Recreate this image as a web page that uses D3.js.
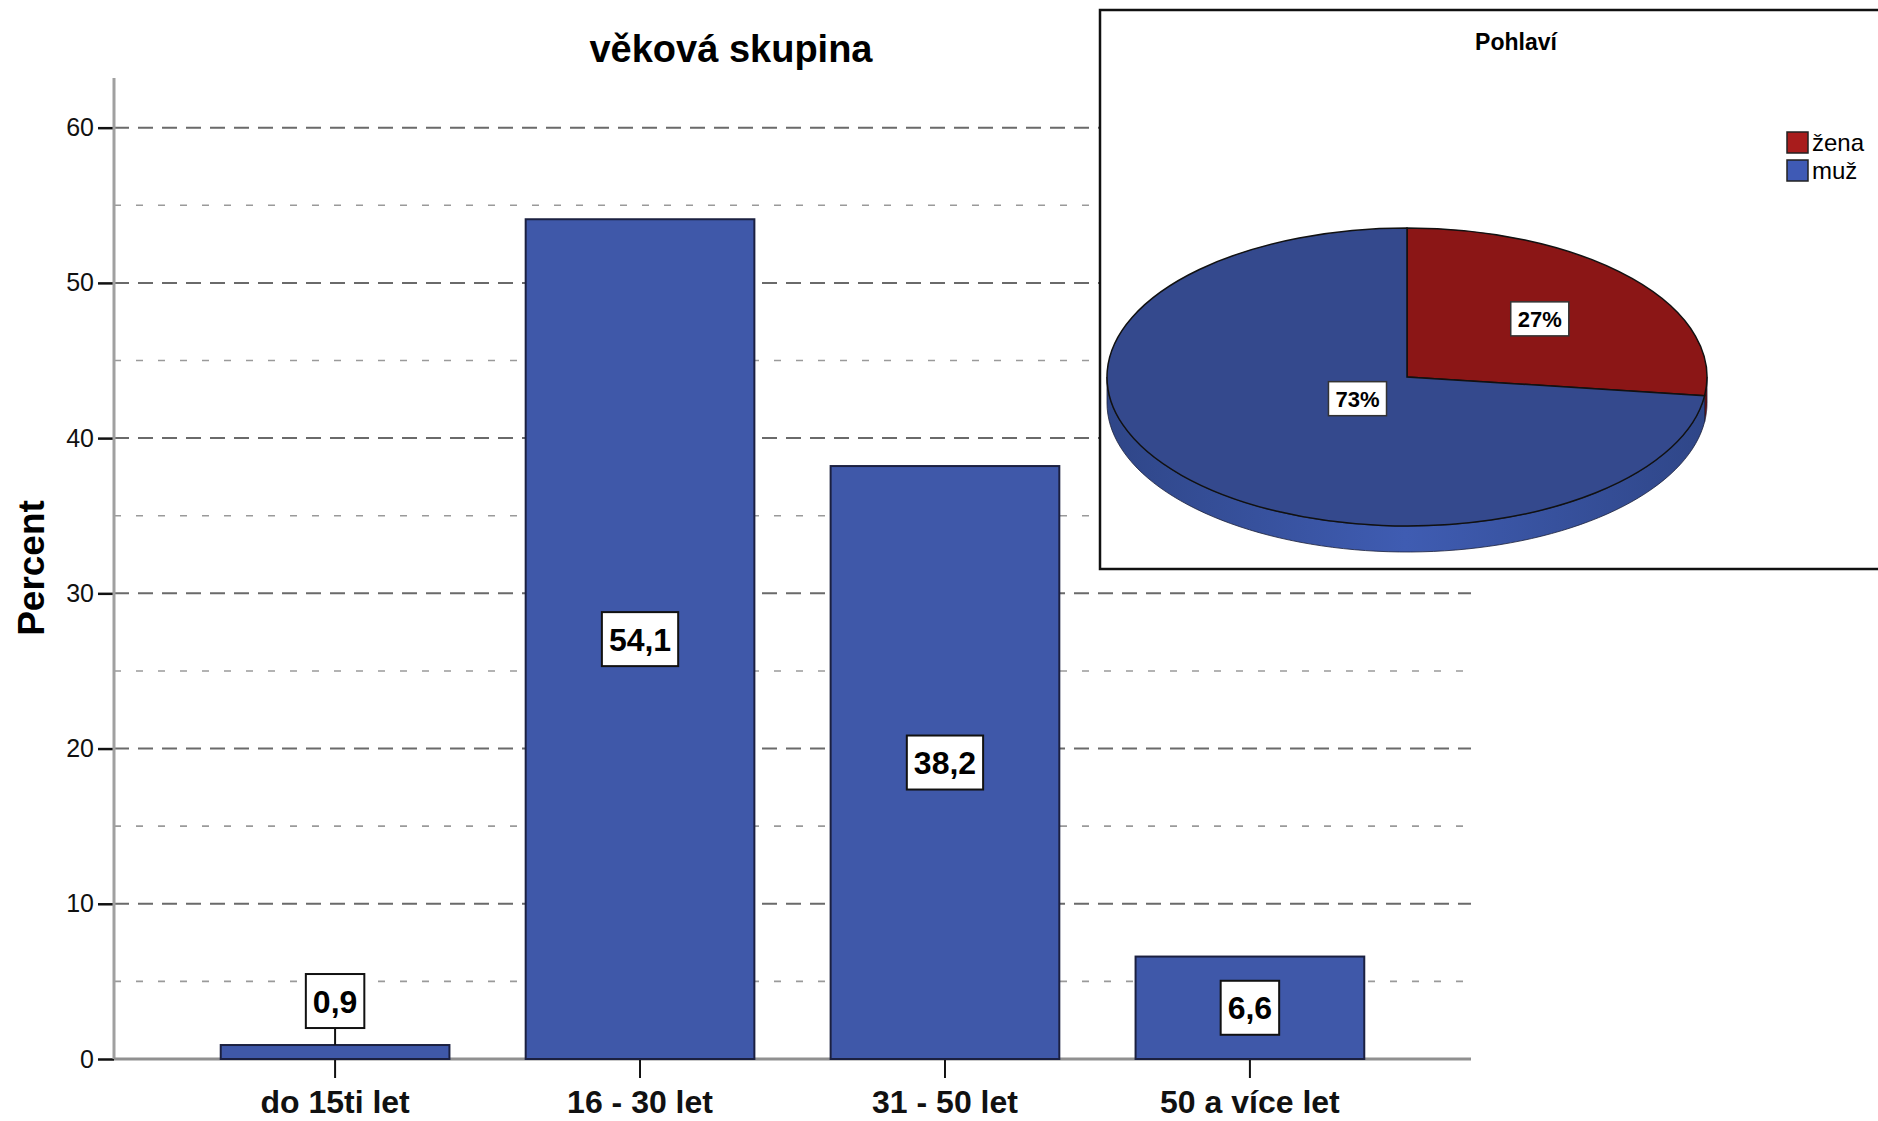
<!DOCTYPE html>
<html>
<head>
<meta charset="utf-8">
<script src="https://cdnjs.cloudflare.com/ajax/libs/d3/7.8.5/d3.min.js"></script>
<style>
  body { margin: 0; background: #fff; }
  svg { display: block; font-family: "Liberation Sans", Arial, sans-serif; }
</style>
</head>
<body>
<svg id="chart" width="1878" height="1121"></svg>
<script>
// bar chart data
var ageGroups = ["do 15ti let", "16 - 30 let", "31 - 50 let", "50 a více let"];
var agePercent = [0.9, 54.1, 38.2, 6.6];
var majorTicks = [0, 10, 20, 30, 40, 50, 60];
var minorTicks = [5, 15, 25, 35, 45, 55];

// pie data
var genderLabels = ["žena", "muž"];
var genderPercent = [27, 73];

var cz = d3.formatLocale({decimal: ",", thousands: " ", grouping: [3], currency: ["", " Kč"]});
var fmt = cz.format(".1f");

var svg = d3.select("#chart");

// ---- bar chart ----
var plotLeft = 114, plotRight = 1471, plotTop = 78, plotBottom = 1059;
var x = d3.scaleBand().domain(ageGroups).range([plotLeft, plotRight]).paddingInner(0.25).paddingOuter(0.35);
var y = d3.scaleLinear().domain([0, 63.2]).range([plotBottom, plotTop]);

var grid = svg.append('g');
grid.selectAll('line.minor').data(minorTicks).enter().append('line')
  .attr('class', 'minor')
  .attr('x1', plotLeft).attr('x2', plotRight)
  .attr('y1', d => y(d)).attr('y2', d => y(d))
  .attr('stroke', '#9a9a9a').attr('stroke-width', 1.6).attr('stroke-dasharray', '7,15');
grid.selectAll('line.major').data(majorTicks.slice(1)).enter().append('line')
  .attr('class', 'major')
  .attr('x1', plotLeft).attr('x2', plotRight)
  .attr('y1', d => y(d)).attr('y2', d => y(d))
  .attr('stroke', '#6a6a6a').attr('stroke-width', 2).attr('stroke-dasharray', '15,9');

// y axis
var yAxis = svg.append('g').attr('transform', 'translate(' + plotLeft + ',0)')
  .call(d3.axisLeft(y).tickValues(majorTicks).tickSize(16).tickPadding(4).tickFormat(d3.format('d')));
yAxis.select('.domain').remove();
yAxis.attr('font-family', null).attr('font-size', null);
yAxis.selectAll('.tick line').attr('stroke', '#111').attr('stroke-width', 2.5);
yAxis.selectAll('.tick text').style('font-size', '25px').attr('fill', '#111');
svg.append('line').attr('x1', plotLeft).attr('x2', plotLeft).attr('y1', plotTop).attr('y2', plotBottom)
  .attr('stroke', '#a0a0a0').attr('stroke-width', 3);

svg.append('text').attr('transform', 'translate(44, 568) rotate(-90)')
  .attr('text-anchor', 'middle').style('font-size', '37px').attr('font-weight', 'bold').text('Percent');

svg.append('text').attr('x', 731).attr('y', 62).attr('text-anchor', 'middle')
  .style('font-size', '38px').attr('font-weight', 'bold').text('věková skupina');

// x axis
svg.append('line').attr('x1', plotLeft).attr('x2', plotRight).attr('y1', plotBottom).attr('y2', plotBottom)
  .attr('stroke', '#909090').attr('stroke-width', 3);
var xAxis = svg.append('g').attr('transform', 'translate(0,' + plotBottom + ')')
  .call(d3.axisBottom(x).tickSize(19).tickPadding(12));
xAxis.select('.domain').remove();
xAxis.attr('font-family', null).attr('font-size', null);
xAxis.selectAll('.tick line').attr('stroke', '#111').attr('stroke-width', 2);
xAxis.selectAll('.tick text').style('font-size', '32px').attr('font-weight', 'bold').attr('fill', '#111');

// bars
var bars = svg.append('g');
bars.selectAll('rect').data(agePercent).enter().append('rect')
  .attr('x', (d, i) => x(ageGroups[i]))
  .attr('y', d => y(d))
  .attr('width', x.bandwidth())
  .attr('height', d => y(0) - y(d))
  .attr('fill', '#3f58a9')
  .attr('stroke', '#1b2040').attr('stroke-width', 2);

// value labels
var boxH = 54, padX = 7;
var labels = svg.append('g');
agePercent.forEach(function(v, i) {
  var cx = x(ageGroups[i]) + x.bandwidth() / 2;
  var h = y(0) - y(v);
  var cy;
  if (h > boxH + 20) {
    cy = y(v / 2);
  } else {
    cy = y(v) - 17 - boxH / 2;
    labels.append('line').attr('x1', cx).attr('x2', cx)
      .attr('y1', cy + boxH / 2).attr('y2', y(v))
      .attr('stroke', '#111').attr('stroke-width', 2);
  }
  var g = labels.append('g').attr('transform', 'translate(' + cx + ',' + cy + ')');
  var t = g.append('text').attr('text-anchor', 'middle').attr('dy', '0.36em')
    .style('font-size', '32px').attr('font-weight', 'bold').text(fmt(v));
  var w = t.node().getComputedTextLength() + 2 * padX;
  g.insert('rect', 'text').attr('x', -w / 2).attr('y', -boxH / 2).attr('width', w).attr('height', boxH)
    .attr('fill', '#fff').attr('stroke', '#111').attr('stroke-width', 2);
});

// ---- pie panel ----
var panel = svg.append('g');
panel.append('rect').attr('x', 1100).attr('y', 10).attr('width', 790).attr('height', 559)
  .attr('fill', '#fff').attr('stroke', '#111').attr('stroke-width', 2.5);
panel.append('text').attr('x', 1516).attr('y', 50).attr('text-anchor', 'middle')
  .style('font-size', '23px').attr('font-weight', 'bold').text('Pohlaví');

var pieTop = ['#8b1616', '#34498d'];
var pieSide = ['#6e1010', '#3b57aa'];
var legendFill = ['#a81c1c', '#3f5ab5'];

var legend = panel.append('g');
genderLabels.forEach(function(name, i) {
  legend.append('rect').attr('x', 1787).attr('y', 132 + i * 28).attr('width', 21).attr('height', 21)
    .attr('fill', legendFill[i]).attr('stroke', '#222').attr('stroke-width', 1.5);
  legend.append('text').attr('x', 1812).attr('y', 151 + i * 28).style('font-size', '24px').text(name);
});

var pcx = 1407, pcy = 377, rx = 300, ry = 149, depth = 26;
var pie = d3.pie().sort(null).value(d => d);
var slices = pie(genderPercent);

var defs = svg.append('defs');
var grad = defs.append('linearGradient').attr('id', 'sideGrad').attr('x1', 0).attr('x2', 1).attr('y1', 0).attr('y2', 0);
grad.append('stop').attr('offset', '0%').attr('stop-color', '#2f4688');
grad.append('stop').attr('offset', '50%').attr('stop-color', '#3f5cb2');
grad.append('stop').attr('offset', '100%').attr('stop-color', '#2f4688');

function ept(a, dy) {
  return [pcx + rx * Math.sin(a), pcy - ry * Math.cos(a) + dy];
}

// side walls of the front half
var sides = panel.append('g');
slices.forEach(function(s, i) {
  var a0 = Math.max(s.startAngle, Math.PI / 2);
  var a1 = Math.min(s.endAngle, 3 * Math.PI / 2);
  if (a1 <= a0) return;
  var n = 80, pts = [];
  for (var k = 0; k <= n; k++) pts.push(ept(a0 + (a1 - a0) * k / n, 0));
  for (var k = n; k >= 0; k--) pts.push(ept(a0 + (a1 - a0) * k / n, depth));
  sides.append('path').attr('d', d3.line()(pts) + 'Z')
    .attr('fill', i === 1 ? 'url(#sideGrad)' : pieSide[i])
    .attr('stroke', '#1a1f3a').attr('stroke-width', 0.8);
});

// top face
var arc = d3.arc().innerRadius(0).outerRadius(rx);
var topFace = panel.append('g').attr('transform', 'translate(' + pcx + ',' + pcy + ') scale(1,' + (ry / rx) + ')');
topFace.selectAll('path').data(slices).enter().append('path')
  .attr('d', arc)
  .attr('fill', (d, i) => pieTop[i])
  .attr('stroke', '#111').attr('stroke-width', 1.5).attr('vector-effect', 'non-scaling-stroke');

// pie labels
var labelRadius = [0.59, 0.22];
slices.forEach(function(s, i) {
  var r = rx * labelRadius[i];
  var c = d3.arc().innerRadius(r).outerRadius(r).centroid(s);
  var g = panel.append('g').attr('transform', 'translate(' + (pcx + c[0]) + ',' + (pcy + c[1] * ry / rx) + ')');
  var t = g.append('text').attr('text-anchor', 'middle').attr('dy', '0.36em')
    .style('font-size', '22px').attr('font-weight', 'bold').text(genderPercent[i] + '%');
  var w = t.node().getComputedTextLength() + 14;
  g.insert('rect', 'text').attr('x', -w / 2).attr('y', -17).attr('width', w).attr('height', 34)
    .attr('fill', '#fff').attr('stroke', '#333').attr('stroke-width', 1.5);
});
</script>
</body>
</html>
